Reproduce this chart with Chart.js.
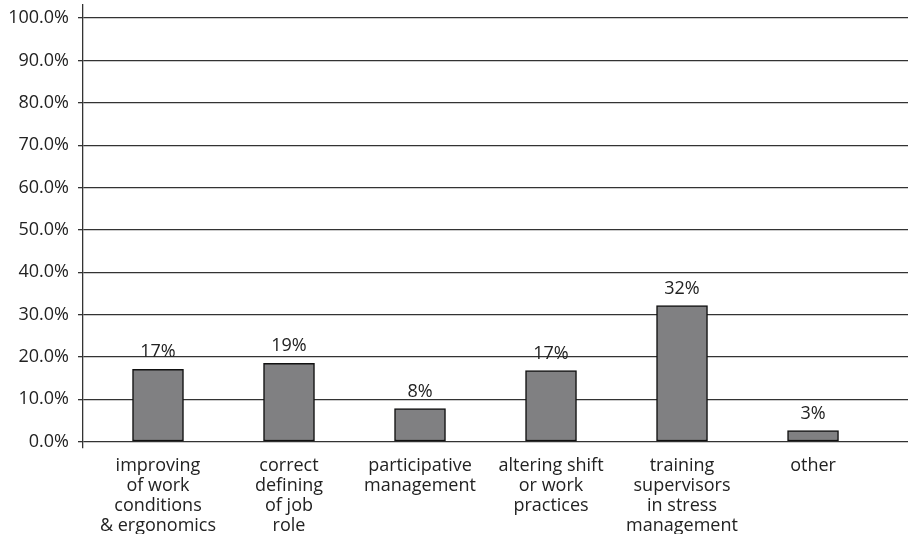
<!DOCTYPE html>
<html>
<head>
<meta charset="utf-8">
<script src="https://cdn.jsdelivr.net/npm/chart.js@4.4.1/dist/chart.umd.min.js"></script>
<style>
  html, body { margin: 0; padding: 0; background: #fff; }
  #wrap { width: 908px; height: 534px; }
</style>
</head>
<body>
<div id="wrap"><canvas id="myChart"></canvas></div>
<script>
var categories = [
  ['improving', 'of work', 'conditions', '& ergonomics'],
  ['correct', 'defining', 'of job', 'role'],
  ['participative', 'management'],
  ['altering shift', 'or work', 'practices'],
  ['training', 'supervisors', 'in stress', 'management'],
  ['other']
];
var shares = [17.1, 18.5, 7.8, 16.8, 32.1, 2.6];
var yTicks = [0, 10, 20, 30, 40, 50, 60, 70, 80, 90, 100];

var ink = '#222';
var font = { family: 'Open Sans', size: 18 };

// percentage printed above each bar
var barLabels = {
  id: 'barLabels',
  afterDatasetsDraw: function(chart) {
    var ctx = chart.ctx;
    var meta = chart.getDatasetMeta(0);
    ctx.save();
    ctx.fillStyle = ink;
    ctx.font = font.size + 'px ' + font.family;
    ctx.textAlign = 'center';
    ctx.textBaseline = 'middle';
    meta.data.forEach(function(bar, i) {
      ctx.fillText(Math.round(shares[i]) + '%', bar.x, bar.y - 17);
    });
    ctx.restore();
  }
};

var ctx = document.getElementById('myChart').getContext('2d');
var myChart = new Chart(ctx, {
  type: 'bar',
  data: {
    datasets: [{
      data: shares.map(function(v, i) { return { x: i, y: v }; }),
      backgroundColor: '#808082',
      borderColor: '#111',
      borderWidth: 1.5,
      borderSkipped: false,
      barThickness: 51
    }]
  },
  options: {
    responsive: true,
    maintainAspectRatio: false,
    animation: false,
    layout: { padding: { top: 5, right: 0, left: 0, bottom: 0 } },
    plugins: { legend: { display: false }, tooltip: { enabled: false } },
    scales: {
      x: {
        type: 'linear',
        offset: false,
        min: -0.5725,
        max: 5.725,
        grid: { display: false, drawTicks: false },
        border: { display: false },
        afterBuildTicks: function(scale) {
          scale.ticks = categories.map(function(c, i) { return { value: i }; });
        },
        afterFit: function(scale) {
          scale.height = 86;
          scale.paddingLeft = 0;
          scale.paddingRight = 0;
        },
        ticks: {
          color: ink,
          font: { family: font.family, size: font.size, lineHeight: 1.11 },
          padding: 8,
          maxRotation: 0,
          autoSkip: false,
          callback: function(value) { return categories[value]; }
        }
      },
      y: {
        min: -1.5,
        max: 103.1,
        afterBuildTicks: function(scale) {
          scale.ticks = yTicks.map(function(v) { return { value: v }; });
        },
        afterFit: function(scale) {
          scale.width = 83;
          scale.paddingTop = 0;
          scale.paddingBottom = 0;
        },
        grid: { color: '#333', lineWidth: 1.3, tickLength: 5 },
        border: { display: true, color: '#333', width: 1.3 },
        ticks: {
          color: ink,
          font: font,
          padding: 9,
          callback: function(value) { return value.toFixed(1) + '%'; }
        }
      }
    }
  },
  plugins: [barLabels]
});
</script>
</body>
</html>
